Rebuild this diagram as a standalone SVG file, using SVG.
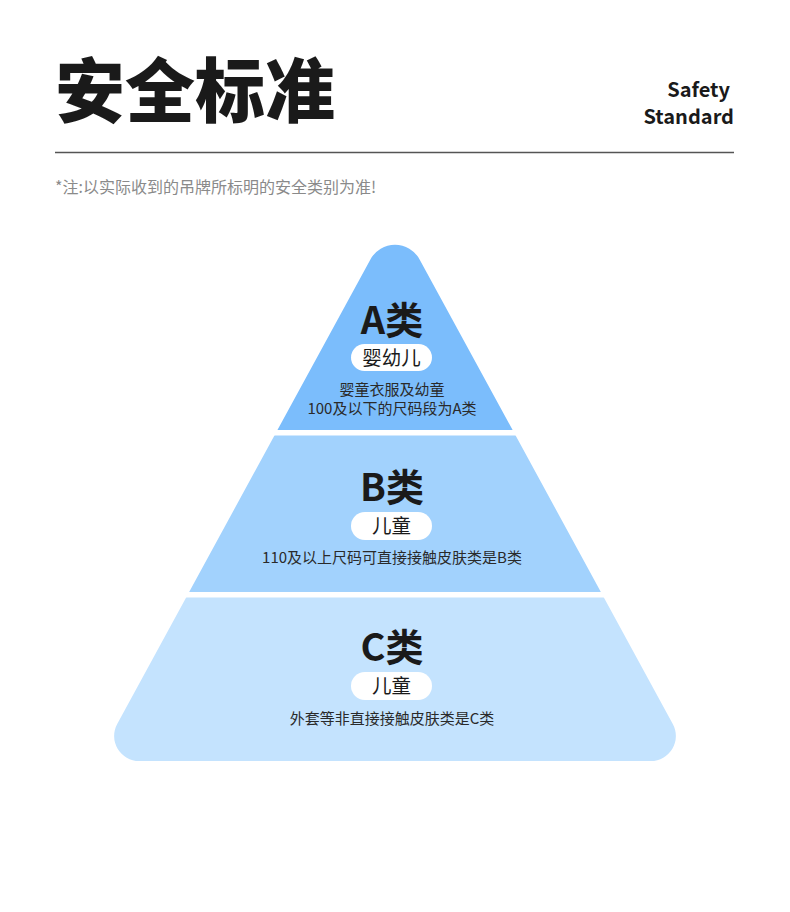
<svg xmlns="http://www.w3.org/2000/svg" width="790" height="912" viewBox="0 0 790 912">
  <defs>
    <clipPath id="pyr">
      <path d="M 370.4 259.4 A 28 28 0 0 1 419.6 259.4 L 672.8 724 A 25 25 0 0 1 650.9 761 L 139.1 761 A 25 25 0 0 1 117.2 724 Z"/>
    </clipPath>
    <style>
      text { font-family: "Noto Sans CJK SC", "Noto Sans", sans-serif; }
      .title { font-size: 70px; font-weight: 900; fill: #1a1a1a; }
      .en { font-size: 20px; font-weight: 700; fill: #1a1a1a; text-anchor: end; }
      .note { font-size: 16px; fill: #8a8a8a; }
      .cat { font-size: 38px; font-weight: 700; fill: #1a1a1a; text-anchor: middle; }
      .pilltxt { font-size: 19.5px; fill: #1a1a1a; text-anchor: middle; }
      .desc { font-size: 15px; fill: #2a2a2a; text-anchor: middle; }
      .pill { fill: #ffffff; }
    </style>
  </defs>
  <rect width="790" height="912" fill="#ffffff"/>

  <g id="header">
    <text class="title" x="55" y="117">安全标准</text>
    <text class="en" x="730" y="97">Safety</text>
    <text class="en" x="734" y="124">Standard</text>
    <line x1="55" y1="152.5" x2="734" y2="152.5" stroke="#555555" stroke-width="1.3"/>
    <text class="note" x="55" y="193">*注:以实际收到的吊牌所标明的安全类别为准!</text>
  </g>

  <g id="tier-a">
    <rect x="0" y="200" width="790" height="230" fill="#7bbdfc" clip-path="url(#pyr)"/>
    <text class="cat" x="392" y="334">A类</text>
    <rect class="pill" x="351" y="344" width="81" height="27" rx="13.5"/>
    <text class="pilltxt" x="391.5" y="365">婴幼儿</text>
    <text class="desc" x="392" y="395">婴童衣服及幼童</text>
    <text class="desc" x="392" y="414">100及以下的尺码段为A类</text>
  </g>

  <g id="tier-b">
    <rect x="0" y="435.5" width="790" height="156.5" fill="#a2d2fd" clip-path="url(#pyr)"/>
    <text class="cat" x="392" y="501">B类</text>
    <rect class="pill" x="351" y="512" width="81" height="28" rx="14"/>
    <text class="pilltxt" x="391.5" y="533">儿童</text>
    <text class="desc" x="392" y="563">110及以上尺码可直接接触皮肤类是B类</text>
  </g>

  <g id="tier-c">
    <rect x="0" y="597.5" width="790" height="180" fill="#c4e3fe" clip-path="url(#pyr)"/>
    <text class="cat" x="392" y="661">C类</text>
    <rect class="pill" x="351" y="672" width="81" height="28" rx="14"/>
    <text class="pilltxt" x="391.5" y="693">儿童</text>
    <text class="desc" x="392" y="724">外套等非直接接触皮肤类是C类</text>
  </g>
</svg>
